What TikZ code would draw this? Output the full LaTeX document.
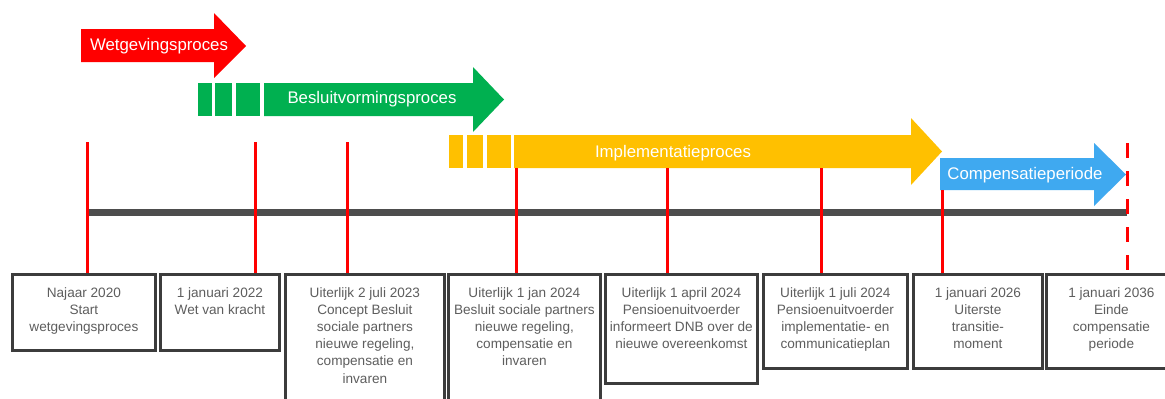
\documentclass[tikz,border=0pt]{standalone}
\usepackage{fontspec}
\setmainfont{Liberation Sans}
\definecolor{arrred}{HTML}{FF0000}
\definecolor{arrgreen}{HTML}{00B050}
\definecolor{arryellow}{HTML}{FFC000}
\definecolor{arrblue}{HTML}{3FA9F0}
\definecolor{bargray}{HTML}{4D4D4D}
\definecolor{boxgray}{HTML}{3C3C3C}
\definecolor{txtgray}{HTML}{5E5E5E}
\definecolor{tickred}{HTML}{FF0000}
\begin{document}
\begin{tikzpicture}[x=1pt,y=-1pt,
  box/.style={draw=boxgray, line width=2.8pt, fill=white, rectangle, inner sep=0pt, anchor=north west},
  boxtext/.style={anchor=north, align=center, text=txtgray, font=\fontsize{13.6}{17.2}\selectfont, inner sep=0pt},
  arrowtext/.style={text=white, font=\fontsize{16.8}{20}\selectfont, inner sep=0pt},
  tickline/.style={draw=tickred, line width=3pt},
]
\useasboundingbox (0,0) rectangle (1165,399);
\clip (0,0) rectangle (1165,399);
\fill[white] (0,0) rectangle (1165,399);

% ---- process arrows ----
% Wetgevingsproces
\fill[arrred] (81,29) -- (214,29) -- (214,13) -- (246,46) -- (214,78) -- (214,62) -- (81,62) -- cycle;
\node[arrowtext] (wet) at (159,46) {Wetgevingsproces};

% Besluitvormingsproces
\fill[arrgreen] (198,83) rectangle (212,116);
\fill[arrgreen] (215,83) rectangle (232,116);
\fill[arrgreen] (236,83) rectangle (260,116);
\fill[arrgreen] (264,83) -- (473,83) -- (473,67) -- (504,99.5) -- (473,132) -- (473,116) -- (264,116) -- cycle;
\node[arrowtext] (bes) at (372,99.5) {Besluitvormingsproces};

% Implementatieproces
\fill[arryellow] (449,135) rectangle (463,168);
\fill[arryellow] (467,135) rectangle (483,168);
\fill[arryellow] (487,135) rectangle (511,168);
\fill[arryellow] (514,135) -- (911,135) -- (911,118) -- (942,151.5) -- (911,185) -- (911,168) -- (514,168) -- cycle;
\node[arrowtext] (imp) at (673,153) {Implementatieproces};

% Compensatieperiode
\fill[arrblue] (940,158) -- (1094,158) -- (1094,143) -- (1126,174.5) -- (1094,206) -- (1094,190) -- (940,190) -- cycle;
\node[arrowtext] (comp) at (1025,175) {Compensatieperiode};

% ---- timeline bar ----
\coordinate (barL) at (87,212.5);
\coordinate (barR) at (1127,212.5);
\draw[bargray, line width=7pt] (barL) -- (barR);

% ---- boxes ----
\node[box, minimum width=143, minimum height=76] (b1) at (11,273) {};
\node[box, minimum width=119, minimum height=76] (b2) at (159,273) {};
\node[box, minimum width=159, minimum height=150] (b3) at (284,273) {};
\node[box, minimum width=152, minimum height=150] (b4) at (447,273) {};
\node[box, minimum width=152, minimum height=109] (b5) at (604,273) {};
\node[box, minimum width=144, minimum height=94] (b6) at (762,273) {};
\node[box, minimum width=129, minimum height=94] (b7) at (912,273) {};
\node[box, minimum width=130, minimum height=94] (b8) at (1045,273) {};

\node[boxtext] (t1) at ([yshift=-14]b1.north) {Najaar 2020\\Start\\wetgevingsproces};
\node[boxtext] (t2) at ([yshift=-14]b2.north) {1 januari 2022\\Wet van kracht};
\node[boxtext] (t3) at ([yshift=-14]b3.north) {Uiterlijk 2 juli 2023\\Concept Besluit\\sociale partners\\nieuwe regeling,\\compensatie en\\invaren};
\node[boxtext] (t4) at ([yshift=-14]b4.north) {Uiterlijk 1 jan 2024\\Besluit sociale partners\\nieuwe regeling,\\compensatie en\\invaren};
\node[boxtext] (t5) at ([yshift=-14]b5.north) {Uiterlijk 1 april 2024\\Pensioenuitvoerder\\informeert DNB over de\\nieuwe overeenkomst};
\node[boxtext] (t6) at ([yshift=-14]b6.north) {Uiterlijk 1 juli 2024\\Pensioenuitvoerder\\implementatie- en\\communicatieplan};
\node[boxtext] (t7) at ([yshift=-14]b7.north) {1 januari 2026\\Uiterste\\transitie-\\moment};
\node[boxtext] (t8) at ([yshift=-14]b8.north) {1 januari 2036\\Einde\\compensatie\\periode};

% ---- red tick lines ----
\coordinate (r1) at (87,142);
\coordinate (r2) at (255.5,142);
\coordinate (r3) at (347.5,142);
\coordinate (r4) at (516,168);
\coordinate (r5) at (667,168);
\coordinate (r6) at (821.5,168);
\coordinate (r7) at (942.5,190);
\coordinate (r8) at (1127.5,143);
\draw[tickline] (r1) -- (r1 |- b1.north);
\draw[tickline] (r2) -- (r2 |- b2.north);
\draw[tickline] (r3) -- (r3 |- b3.north);
\draw[tickline] (r4) -- (r4 |- b4.north);
\draw[tickline] (r5) -- (r5 |- b5.north);
\draw[tickline] (r6) -- (r6 |- b6.north);
\draw[tickline] (r7) -- (r7 |- b7.north);
\draw[tickline, dash pattern=on 15pt off 13pt] (r8) -- (r8 |- b8.north);
\end{tikzpicture}
\end{document}
